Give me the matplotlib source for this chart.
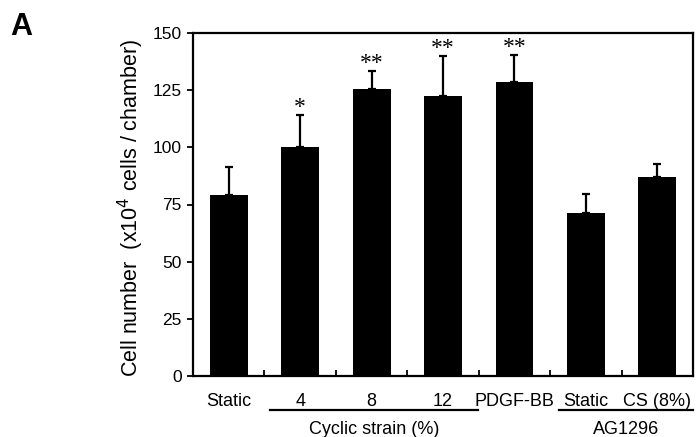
import matplotlib
matplotlib.use("Agg")
import matplotlib.pyplot as plt

plt.rcParams['font.family'] = ['Liberation Sans', 'DejaVu Sans']

categories = ["Static", "4", "8", "12", "PDGF-BB", "Static", "CS (8%)"]
means = [79, 100, 125.5, 122.5, 128.5, 71.5, 87]
errors = [12.5, 14, 8, 17.5, 12, 8.2, 5.8]
stars = ["", "*", "**", "**", "**", "", ""]
y_ticks = [0, 25, 50, 75, 100, 125, 150]
groups = [("Cyclic strain (%)", 0.58, 3.49, 2.03), ("AG1296", 4.62, 6.5, 5.56)]

fig = plt.figure(figsize=(6.97, 4.37), dpi=100)
ax = fig.add_axes([193/697, 1-376/437, 500/697, 343/437])

x = list(range(len(categories)))
ax.bar(x, means, width=0.53, color='black', zorder=2)
ax.errorbar(x, means, yerr=[[0]*len(errors), errors], fmt='none',
            ecolor='black', elinewidth=1.6, capsize=2.7, capthick=1.6, zorder=1)
for xi, m, e, s in zip(x, means, errors, stars):
    if s:
        ax.text(xi, m + e + 0.8, s, ha='center', va='baseline', fontsize=17,
                family=['Liberation Serif', 'DejaVu Serif'])

ax.set_xlim(-0.5, 6.5)
ax.set_ylim(0, 150)
ax.set_yticks(y_ticks)
ax.set_yticklabels([str(v) for v in y_ticks], fontsize=12.5)
ax.tick_params(axis='y', direction='out', length=4, width=1.3, pad=4)
ax.set_xticks([i + 0.5 for i in range(len(categories) - 1)], minor=True)
ax.set_xticks(x)
ax.set_xticklabels(categories, fontsize=13)
ax.tick_params(axis='x', which='major', length=0, pad=12)
ax.tick_params(axis='x', which='minor', direction='in', length=4, width=1.3)
for sp in ax.spines.values():
    sp.set_linewidth(1.6)

ax.set_ylabel("Cell number  (x10$^4$ cells / chamber)", fontsize=15.5)
ax.yaxis.set_label_coords(-0.093, 0.49)

for label, x0, x1, xc in groups:
    ax.plot([x0, x1], [-0.099, -0.099], transform=ax.get_xaxis_transform(), color='black',
            lw=1.6, clip_on=False)
    ax.text(xc, -0.131, label, transform=ax.get_xaxis_transform(),
            ha='center', va='top', fontsize=13)

fig.text(10/697, 1-27/437, "A", fontsize=22, fontweight='bold', va='center', ha='left')

fig.savefig("out.png", dpi=100)
